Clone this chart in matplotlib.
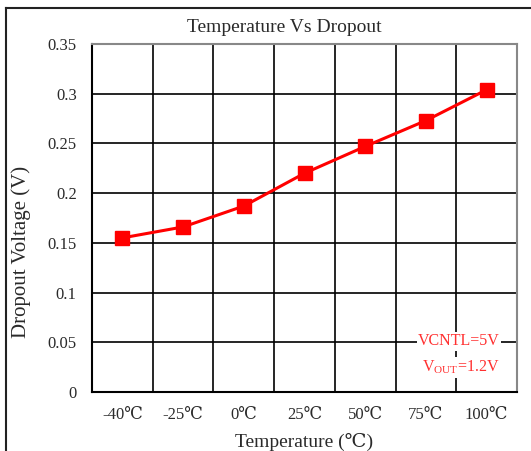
import matplotlib.pyplot as plt
from matplotlib.lines import Line2D

temps = ['-40\u2103', '-25\u2103', '0\u2103', '25\u2103', '50\u2103', '75\u2103', '100\u2103']
dropout = [0.155, 0.166, 0.187, 0.220, 0.247, 0.273, 0.304]
yticks = [0, 0.05, 0.1, 0.15, 0.2, 0.25, 0.3, 0.35]
ylabels = ['0', '0.05', '0.1', '0.15', '0.2', '0.25', '0.3', '0.35']

plt.rcParams['font.family'] = ['Liberation Serif', 'DejaVu Serif']
plt.rcParams['mathtext.fontset'] = 'custom'
plt.rcParams['mathtext.rm'] = 'Liberation Serif'

W, H = 531, 451
fig = plt.figure(figsize=(W / 100, H / 100), dpi=100)
ax = fig.add_axes([92 / W, 1 - 392 / H, (517 - 92) / W, (392 - 44) / H])

xs = [i + 0.5 for i in range(len(temps))]
ax.plot(xs, dropout, color='#ff0000', lw=2.2, marker='s', ms=10, zorder=3)

ax.set_xlim(0, len(temps))
ax.set_ylim(0, 0.35)
ax.set_yticks(yticks)
ax.set_yticklabels(ylabels)
ax.set_xticks(xs)
ax.set_xticklabels(temps)
ax.set_xticks(range(len(temps) + 1), minor=True)
ax.tick_params(axis='both', which='both', length=0, labelsize=12, colors='#2a2a2a')
ax.tick_params(axis='x', pad=11)
ax.tick_params(axis='y', pad=11)
ax.grid(True, axis='y', which='major', color='black', lw=1.2)
ax.grid(True, axis='x', which='minor', color='black', lw=1.2)
for s in ['left', 'bottom']:
    ax.spines[s].set_color('black')
    ax.spines[s].set_linewidth(1.5)
for s in ['top', 'right']:
    ax.spines[s].set_color('#888888')
    ax.spines[s].set_linewidth(1.5)

ax.set_xlabel('Temperature (\u2103)', fontsize=14, color='#2a2a2a', labelpad=7)
ax.set_ylabel('Dropout Voltage (V)', fontsize=15, color='#2a2a2a')
ax.yaxis.set_label_coords(-61 / 425, 0.402)
fig.text(284 / W, 1 - 27 / H, 'Temperature Vs Dropout', fontsize=14, color='#2a2a2a',
         ha='center', va='center')

ax.text(0.96, 0.146, 'VCNTL=5V', transform=ax.transAxes, ha='right', va='center',
        fontsize=11.5, color='#ff3030', zorder=4,
        bbox=dict(facecolor='white', edgecolor='none', pad=1))
ax.text(0.96, 0.07, r'V$_{\rm OUT}$=1.2V', transform=ax.transAxes, ha='right', va='center',
        fontsize=11.5, color='#ff3030', zorder=4,
        bbox=dict(facecolor='white', edgecolor='none', pad=1))

# outer frame (top and left only visible)
fig.add_artist(Line2D([6 / W, 6 / W], [0, 1 - 8 / H], color='#222222', lw=1.5))
fig.add_artist(Line2D([6 / W, 1], [1 - 8 / H, 1 - 8 / H], color='#222222', lw=1.5))

fig.savefig('out.png', dpi=100)
